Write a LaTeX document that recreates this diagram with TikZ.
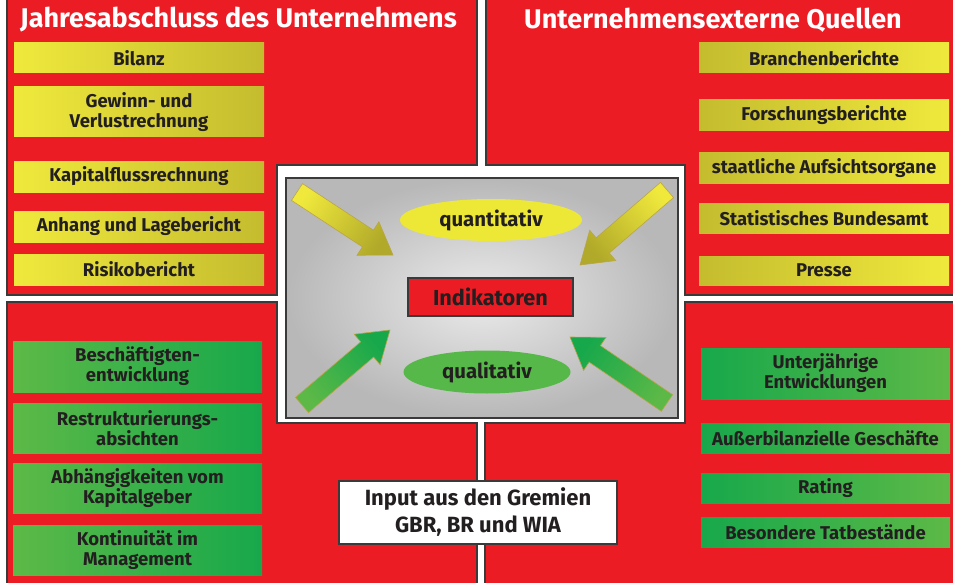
\documentclass[tikz,border=0pt]{standalone}
\usepackage{fontspec}
\setmainfont{Fira Sans}
\usetikzlibrary{calc,shapes.geometric}
\definecolor{pred}{HTML}{EC1C24}
\definecolor{edge}{HTML}{3A3A3A}
\definecolor{ylight}{HTML}{F0E93C}
\definecolor{ydark}{HTML}{C4BC2E}
\definecolor{glight}{HTML}{5DB947}
\definecolor{gdark}{HTML}{17A84B}
\definecolor{txt}{HTML}{231F20}
\definecolor{arrowedge}{HTML}{B9A548}
\definecolor{ellY}{HTML}{EDE836}
\definecolor{ellG}{HTML}{55B848}
\tikzset{
  panel/.style={fill=pred, draw=edge, line width=1.2pt},
  boxtext/.style={font=\bfseries\fontsize{18.5}{20}\selectfont, text=txt, align=center, inner sep=0pt},
  ybox/.style={boxtext, left color=ylight, right color=ydark, minimum width=250, minimum height=30},
  yboxr/.style={boxtext, left color=ydark, right color=ylight, minimum width=250, minimum height=30},
  gbox/.style={boxtext, left color=glight, right color=gdark, minimum width=249, minimum height=50},
  gboxr/.style={boxtext, left color=gdark, right color=glight, minimum width=249, minimum height=30},
  titletext/.style={font=\bfseries\fontsize{27}{30}\selectfont, text=white, inner sep=0pt},
}
\newcommand\fatarrow[5]{%
  \coordinate (#1b) at ($(#2)!30pt!(#1)$);
  \shade[bottom color=#3, top color=#4, shading angle=#5, draw=arrowedge, line width=0.6pt]
    ($(#1)!10pt!90:(#2)$) -- ($(#1b)!10pt!90:(#2)$) -- ($(#1b)!20pt!90:(#2)$) -- (#2)
    -- ($(#1b)!20pt!-90:(#2)$) -- ($(#1b)!10pt!-90:(#2)$) -- ($(#1)!10pt!-90:(#2)$) -- cycle;
}
\begin{document}
\begin{tikzpicture}[x=1pt, y=-1pt]
\useasboundingbox (0,0) rectangle (953,583);
\fill[white] (0,0) rectangle (953,583);
\clip (0,0) rectangle (953,583);
% panels
\draw[panel] (7,-5) -- (477,-5) -- (477,165) -- (277,165) -- (277,295) -- (7,295) -- cycle;
\draw[panel] (486,-5) -- (960,-5) -- (960,295) -- (685,295) -- (685,165) -- (486,165) -- cycle;
\draw[panel] (7,302) -- (277,302) -- (277,423) -- (477,423) -- (477,590) -- (7,590) -- cycle;
\draw[panel] (685,302) -- (960,302) -- (960,590) -- (485,590) -- (485,423) -- (685,423) -- cycle;
% titles
\node[titletext] (t1) at (238.5,20) {Jahresabschluss des Unternehmens};
\node[titletext] (t2) at (713,20) {Unternehmensexterne Quellen};
% left yellow
\node[ybox] (l1) at (139,58) {Bilanz};
\node[ybox, minimum height=50] (l2) at (139,112) {Gewinn- und\\Verlustrechnung};
\node[ybox, minimum height=31] (l3) at (139,176.5) {Kapitalflussrechnung};
\node[ybox, minimum height=31] (l4) at (139,226.5) {Anhang und Lagebericht};
\node[ybox, minimum height=31] (l5) at (139,269.5) {Risikobericht};
% right yellow
\node[yboxr] (r1) at (824,58) {Branchenberichte};
\node[yboxr, minimum height=31] (r2) at (824,115.5) {Forschungsberichte};
\node[yboxr] (r3) at (824,168) {staatliche Aufsichtsorgane};
\node[yboxr] (r4) at (824,218) {Statistisches Bundesamt};
\node[yboxr, minimum height=29] (r5) at (824,270.5) {Presse};
% left green
\node[gbox, minimum height=51] (g1) at (137.5,366.5) {Beschäftigten-\\entwicklung};
\node[gbox] (g2) at (137.5,428) {Restrukturierungs-\\absichten};
\node[gbox] (g3) at (137.5,488) {Abhängigkeiten vom\\Kapitalgeber};
\node[gbox] (g4) at (137.5,550) {Kontinuität im\\Management};
% right green
\node[gboxr, minimum height=51] (h1) at (825.5,373.5) {Unterjährige\\Entwicklungen};
\node[gboxr] (h2) at (825.5,438) {Außerbilanzielle Geschäfte};
\node[gboxr] (h3) at (825.5,488) {Rating};
\node[gboxr] (h4) at (825.5,532) {Besondere Tatbestände};
% input
\node[draw=edge, line width=1.2pt, fill=white, minimum width=278, minimum height=63, align=center,
      font=\bfseries\fontsize{22}{27}\selectfont, text=txt, inner sep=0pt] (inp) at (478,512.5)
      {Input aus den Gremien\\GBR, BR und WIA};
% center
\node[draw=edge, line width=1.6pt, inner color=black!8, outer color=black!28,
      minimum width=392, minimum height=240, inner sep=0pt] (ctr) at (482,298) {};
\node[ellipse, fill=ellY, minimum width=182, minimum height=42, inner sep=0pt,
      font=\bfseries\fontsize{20.4}{24}\selectfont, text=txt] (quant) at (491,220) {quantitativ};
\node[ellipse, fill=ellG, minimum width=167, minimum height=43, inner sep=0pt,
      font=\bfseries\fontsize{20.4}{24}\selectfont, text=txt] (qual) at (487,372) {qualitativ};
\node[draw=edge, line width=1.2pt, fill=pred, minimum width=165, minimum height=38, inner sep=0pt,
      font=\bfseries\fontsize{21.7}{24}\selectfont, text=txt] (ind) at (490.5,297) {Indikatoren};
% arrows
\coordinate (a1) at (297,192); \coordinate (a1t) at (393,255);
\coordinate (a2) at (667,190); \coordinate (a2t) at (580,265);
\coordinate (a3) at (302,405); \coordinate (a3t) at (390,330);
\coordinate (a4) at (667,403); \coordinate (a4t) at (570,337);
\fatarrow{a1}{a1t}{ylight}{ydark!90!black}{-123.3}
\fatarrow{a2}{a2t}{ylight}{ydark!90!black}{130.8}
\fatarrow{a3}{a3t}{glight}{gdark}{-49.6}
\fatarrow{a4}{a4t}{glight}{gdark}{55.8}
\end{tikzpicture}
\end{document}
